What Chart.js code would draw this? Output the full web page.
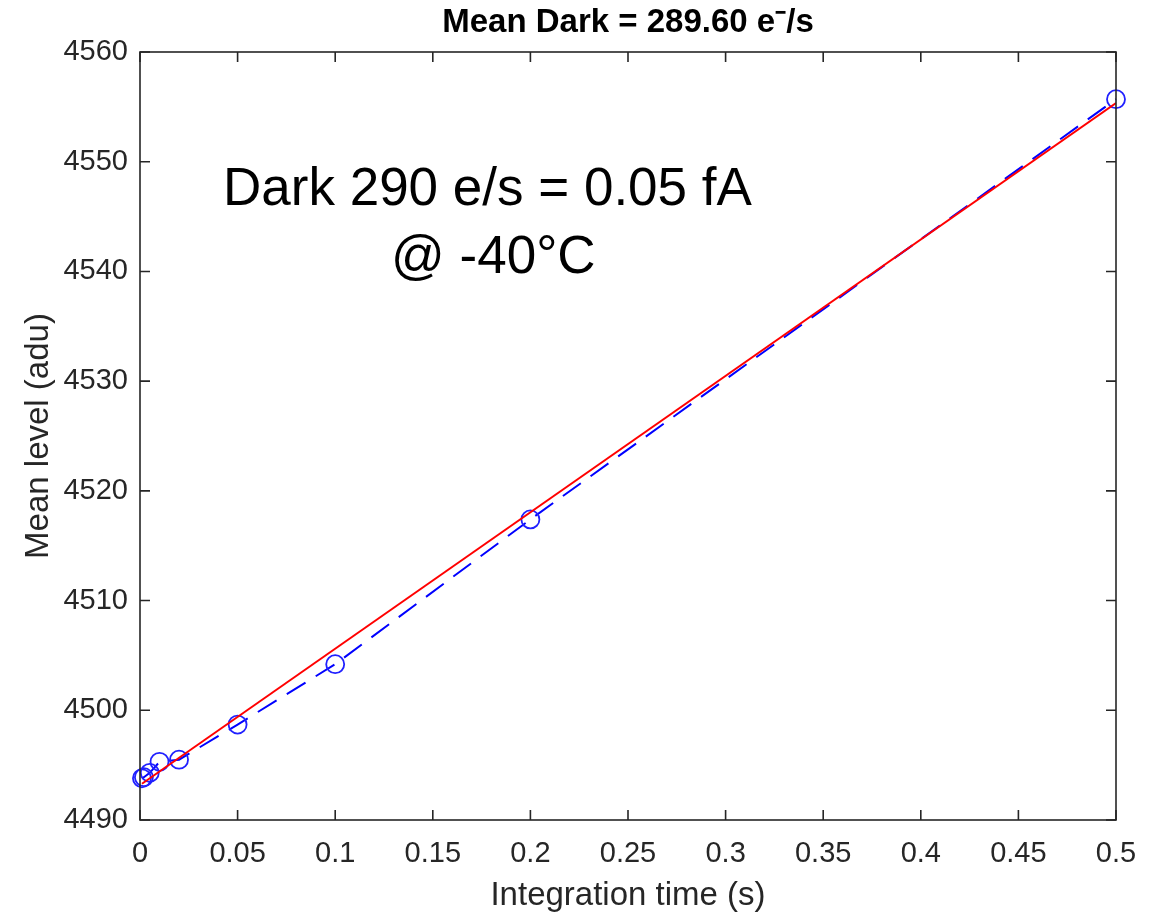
<!DOCTYPE html>
<html><head><meta charset="utf-8">
<script src="https://cdn.jsdelivr.net/npm/chart.js@4.4.1/dist/chart.umd.min.js"></script>
<style>html,body{margin:0;padding:0;background:#fff}#wrap{width:1158px;height:918px}</style>
</head><body><div id="wrap"><canvas id="c" width="1158" height="918"></canvas></div>
<script>
// ---- data ----
const integrationTime = [0.001, 0.002, 0.005, 0.01, 0.02, 0.05, 0.1, 0.2, 0.5];
const meanLevel = [4493.8, 4493.9, 4494.3, 4495.3, 4495.5, 4498.7, 4504.2, 4517.4, 4555.7];
const fitTime = [0.001, 0.5];
const fitLevel = [4493.3, 4555.35];
const xTickValues = [0, 0.05, 0.1, 0.15, 0.2, 0.25, 0.3, 0.35, 0.4, 0.45, 0.5];
const xTickLabels = ['0', '0.05', '0.1', '0.15', '0.2', '0.25', '0.3', '0.35', '0.4', '0.45', '0.5'];
const yTickValues = [4490, 4500, 4510, 4520, 4530, 4540, 4550, 4560];
const yTickLabels = ['4490', '4500', '4510', '4520', '4530', '4540', '4550', '4560'];
const chartTitle = 'Mean Dark = 289.60 e\u207B/s';
const xAxisTitle = 'Integration time (s)';
const yAxisTitle = 'Mean level (adu)';
const noteLines = ['Dark 290 e/s = 0.05 fA', '@ -40\u00B0C'];
const noteX = [0.178, 0.181];
const noteY = [4547.4, 4541.2];

const FONT = '"Liberation Sans", Arial, Helvetica, sans-serif';
const AXIS_COLOR = '#262626';

const framePlugin = {
  id: 'frame',
  afterDatasetsDraw(chart) {
    const ctx = chart.ctx, a = chart.chartArea;
    const xs = chart.scales.x, ys = chart.scales.y;
    ctx.save();
    ctx.strokeStyle = AXIS_COLOR;
    ctx.lineWidth = 1.6;
    ctx.strokeRect(a.left, a.top, a.right - a.left, a.bottom - a.top);
    const tl = 10;
    ctx.beginPath();
    xs.ticks.forEach(t => {
      const px = xs.getPixelForValue(t.value);
      ctx.moveTo(px, a.bottom); ctx.lineTo(px, a.bottom - tl);
      ctx.moveTo(px, a.top); ctx.lineTo(px, a.top + tl);
    });
    ys.ticks.forEach(t => {
      const py = ys.getPixelForValue(t.value);
      ctx.moveTo(a.left, py); ctx.lineTo(a.left + tl, py);
      ctx.moveTo(a.right, py); ctx.lineTo(a.right - tl, py);
    });
    ctx.stroke();
    // annotation text
    ctx.fillStyle = '#000';
    ctx.font = '53px ' + FONT;
    ctx.textAlign = 'center';
    ctx.textBaseline = 'middle';
    noteLines.forEach((s, i) => {
      ctx.fillText(s, xs.getPixelForValue(noteX[i]), ys.getPixelForValue(noteY[i]));
    });
    ctx.restore();
  }
};

new Chart(document.getElementById('c'), {
  type: 'scatter',
  data: {
    datasets: [
      {
        label: 'fit',
        data: fitTime.map((x, i) => ({x, y: fitLevel[i]})),
        showLine: true,
        borderColor: '#ff0000',
        borderWidth: 2,
        pointRadius: 0,
        order: 0
      },
      {
        label: 'measured',
        data: integrationTime.map((x, i) => ({x, y: meanLevel[i]})),
        showLine: true,
        borderColor: '#0000ff',
        borderWidth: 2,
        borderDash: [22, 12],
        pointStyle: 'circle',
        pointRadius: 9,
        pointBorderWidth: 1.8,
        pointBorderColor: '#2020ff',
        pointBackgroundColor: 'rgba(0,0,0,0)',
        clip: false,
        order: 1
      }
    ]
  },
  options: {
    responsive: false,
    animation: false,
    devicePixelRatio: 1,
    layout: { padding: { left: 0, right: 42, top: 0, bottom: 0 } },
    plugins: {
      legend: { display: false },
      tooltip: { enabled: false },
      title: {
        display: true,
        text: chartTitle,
        fullSize: false,
        color: '#000',
        font: { family: FONT, size: 33, weight: 'bold', lineHeight: 1.2 },
        padding: { top: 3, bottom: 9.4 }
      }
    },
    scales: {
      x: {
        type: 'linear', min: 0, max: 0.5,
        grid: { display: false },
        border: { display: false },
        afterBuildTicks: s => { s.ticks = xTickValues.map(v => ({value: v})); },
        afterFit: s => { s.height = 98; },
        ticks: {
          color: AXIS_COLOR, padding: 9, maxRotation: 0, autoSkip: false,
          font: { family: FONT, size: 29 },
          callback: (v, i) => xTickLabels[i]
        },
        title: {
          display: true, text: xAxisTitle, color: AXIS_COLOR,
          font: { family: FONT, size: 33, lineHeight: 1.2 },
          padding: { top: 0, bottom: 2 }
        }
      },
      y: {
        type: 'linear', min: 4490, max: 4560,
        grid: { display: false },
        border: { display: false },
        afterBuildTicks: s => { s.ticks = yTickValues.map(v => ({value: v})); },
        afterFit: s => { s.width = 140; },
        ticks: {
          color: AXIS_COLOR, padding: 4, autoSkip: false,
          font: { family: FONT, size: 29 },
          callback: (v, i) => yTickLabels[i]
        },
        title: {
          display: true, text: yAxisTitle, color: AXIS_COLOR,
          font: { family: FONT, size: 33, lineHeight: 1.2 },
          padding: { top: 19, bottom: 0 }
        }
      }
    }
  },
  plugins: [framePlugin]
});
</script></body></html>
